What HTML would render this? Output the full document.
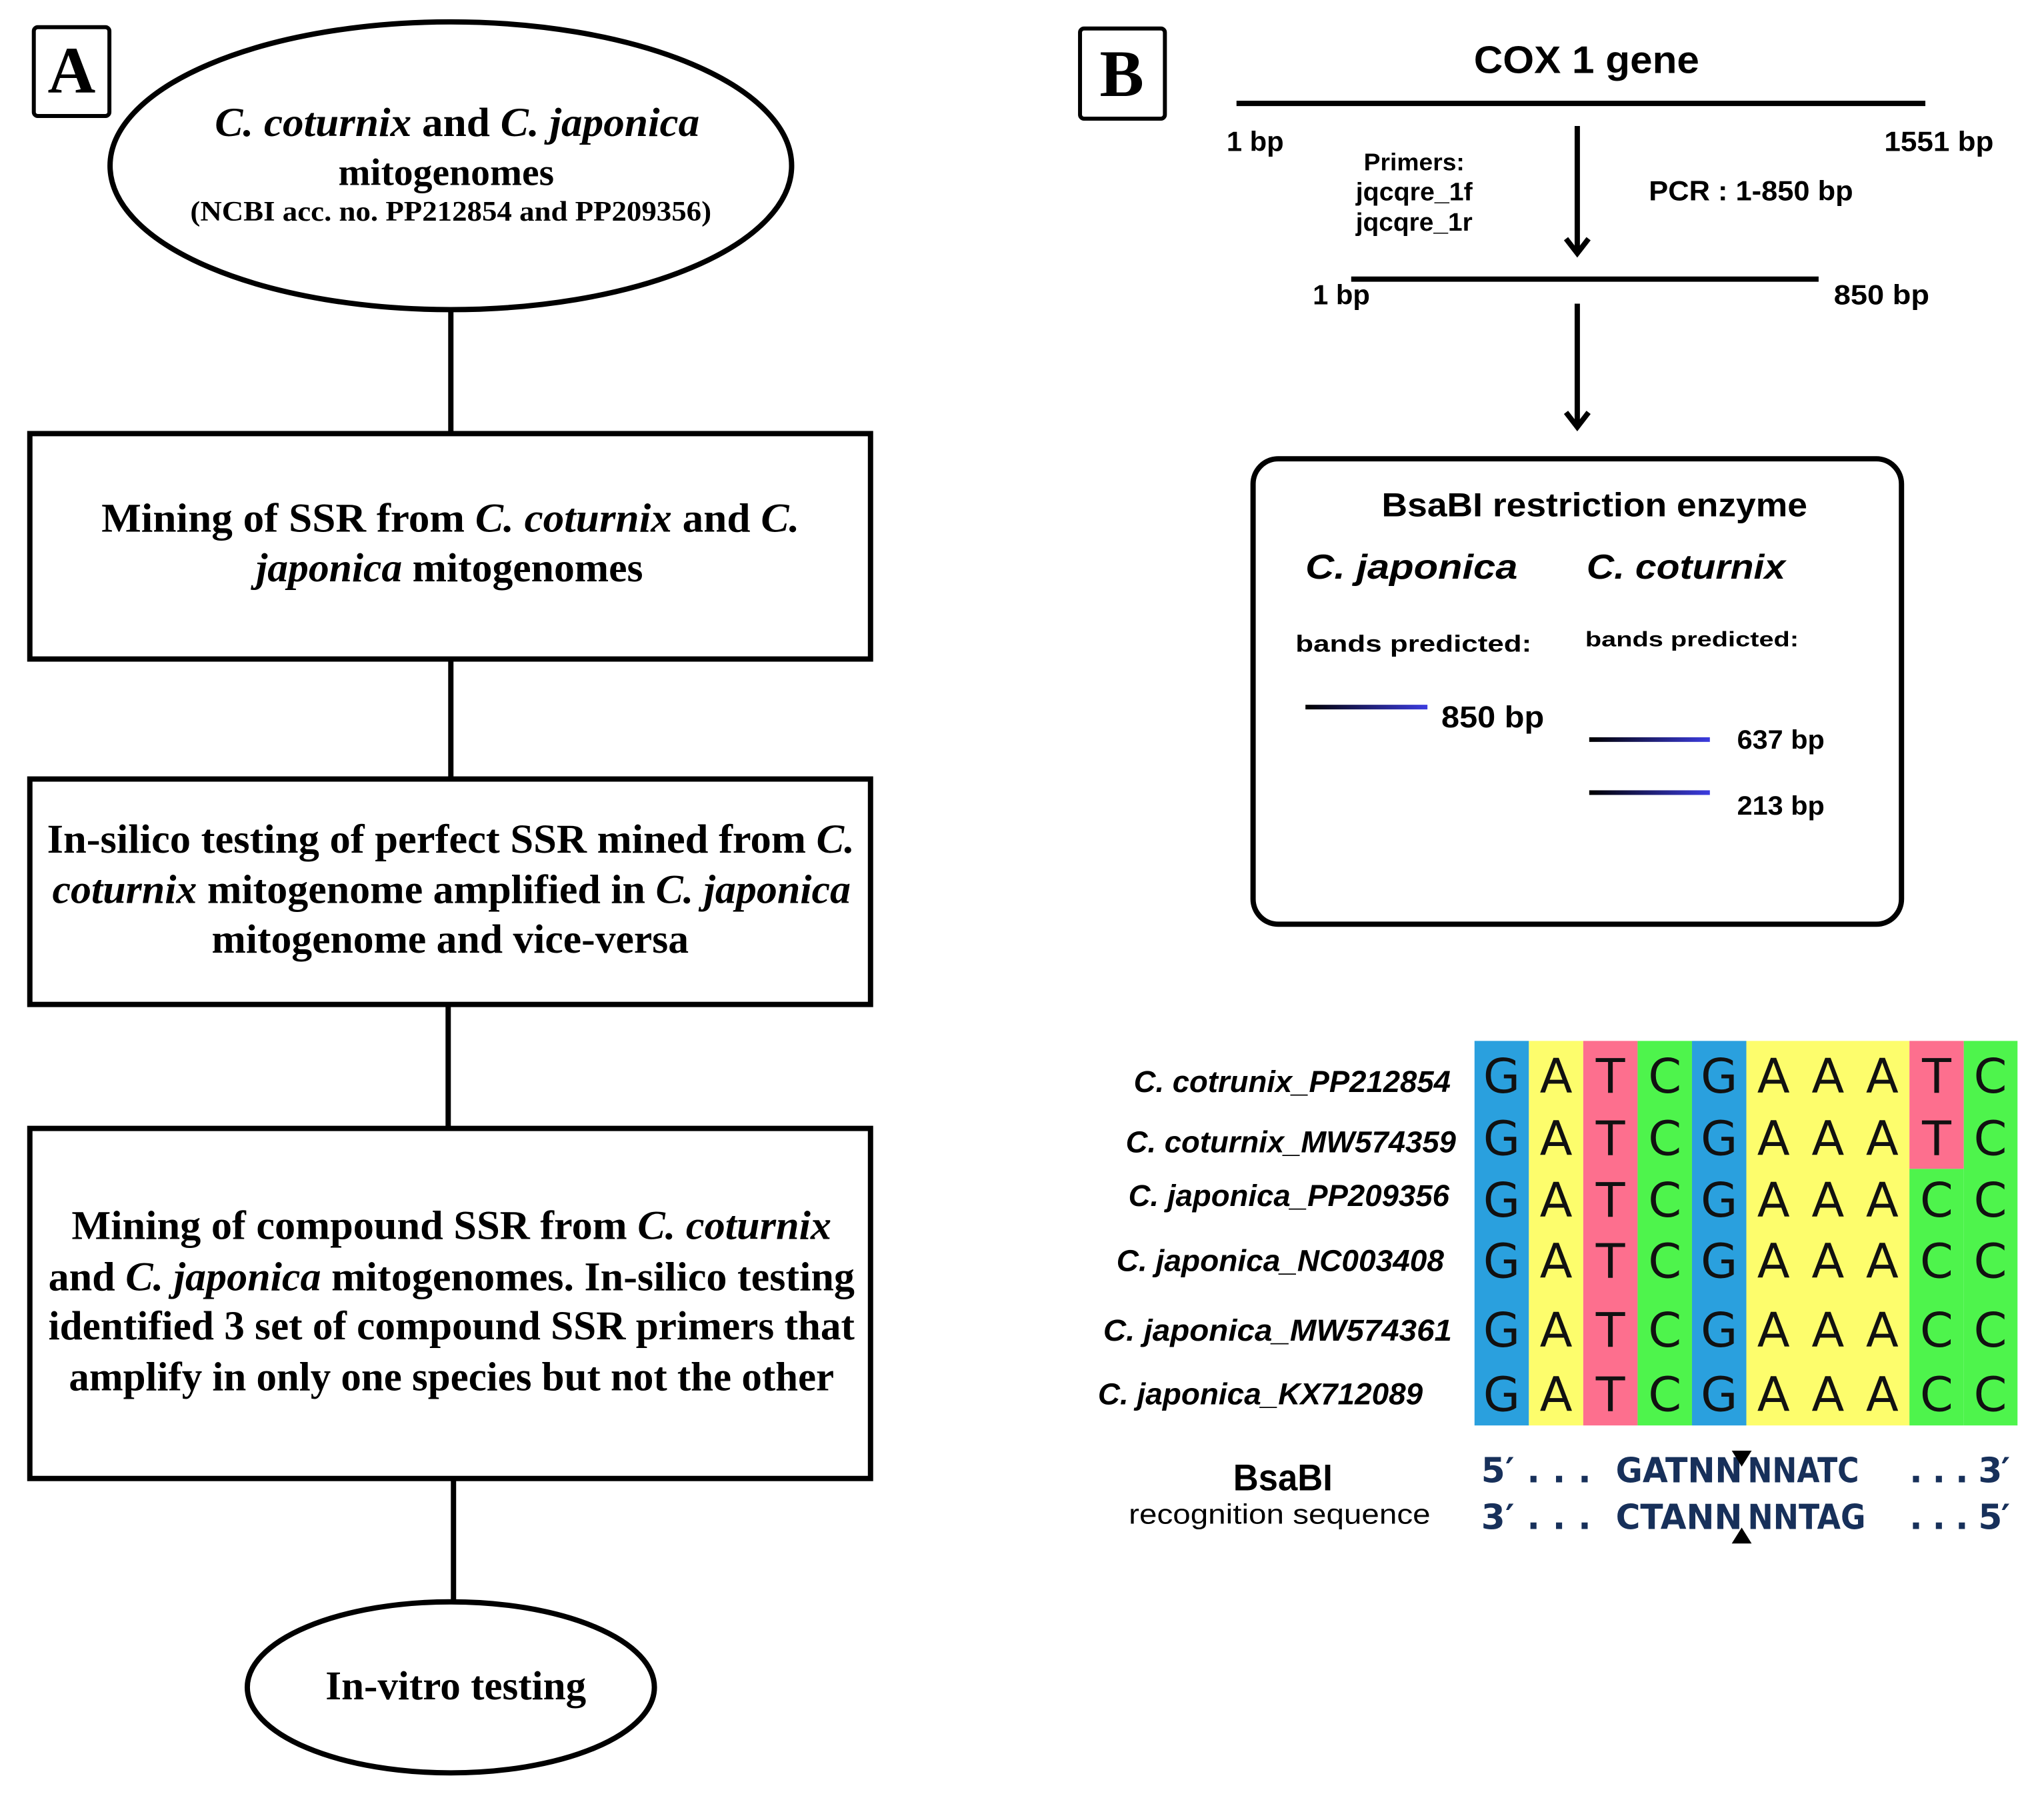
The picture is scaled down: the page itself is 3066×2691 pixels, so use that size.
<!DOCTYPE html>
<html><head><meta charset="utf-8"><style>html,body{margin:0;padding:0;background:#fff}svg{display:block}</style></head>
<body>
<svg width="3066" height="2691" viewBox="0 0 3066 2691" xmlns="http://www.w3.org/2000/svg">
<defs>
<linearGradient id="bg" x1="0" x2="1" y1="0" y2="0"><stop offset="0" stop-color="#000"/><stop offset="1" stop-color="#3c3ce0"/></linearGradient>
</defs>
<rect width="3066" height="2691" fill="#fff"/>
<g transform="scale(0.9945)">
<!-- Panel A -->
<g fill="none" stroke="#000" stroke-width="8">
<rect x="51" y="41" width="114" height="134" rx="6" stroke-width="6"/>
<ellipse cx="680" cy="250" rx="514" ry="217"/>
<line x1="680" y1="467" x2="680" y2="652"/>
<rect x="45" y="654" width="1268" height="340"/>
<line x1="680" y1="994" x2="680" y2="1175"/>
<rect x="45" y="1175" width="1268" height="340"/>
<line x1="676" y1="1515" x2="676" y2="1702"/>
<rect x="45" y="1702" width="1268" height="528"/>
<line x1="684" y1="2230" x2="684" y2="2416"/>
<ellipse cx="680" cy="2545" rx="307" ry="129"/>
</g>
<g font-family="Liberation Serif, serif" font-weight="bold" fill="#000">
<text x="108" y="140" font-size="100" text-anchor="middle">A</text>
<text x="324" y="205" font-size="62" textLength="731" lengthAdjust="spacingAndGlyphs"><tspan font-style="italic">C. coturnix</tspan> and <tspan font-style="italic">C. japonica</tspan></text>
<text x="673" y="279" font-size="58" text-anchor="middle">mitogenomes</text>
<text x="287" y="333" font-size="43" textLength="786" lengthAdjust="spacingAndGlyphs">(NCBI acc. no. PP212854 and PP209356)</text>

<text x="153" y="802" font-size="62" textLength="1053" lengthAdjust="spacingAndGlyphs">Mining of SSR from <tspan font-style="italic">C. coturnix</tspan> and <tspan font-style="italic">C.</tspan></text>
<text x="678" y="877" font-size="62" text-anchor="middle"><tspan font-style="italic">japonica</tspan> mitogenomes</text>

<text x="71" y="1286" font-size="62" textLength="1218" lengthAdjust="spacingAndGlyphs">In-silico testing of perfect SSR mined from <tspan font-style="italic">C.</tspan></text>
<text x="79" y="1362" font-size="62" textLength="1204" lengthAdjust="spacingAndGlyphs"><tspan font-style="italic">coturnix</tspan> mitogenome amplified in <tspan font-style="italic">C. japonica</tspan></text>
<text x="679" y="1437" font-size="62" text-anchor="middle">mitogenome and vice-versa</text>

<text x="108" y="1869" font-size="62" textLength="1146" lengthAdjust="spacingAndGlyphs">Mining of compound SSR from <tspan font-style="italic">C. coturnix</tspan></text>
<text x="73" y="1946" font-size="62" textLength="1216" lengthAdjust="spacingAndGlyphs">and <tspan font-style="italic">C. japonica</tspan> mitogenomes. In-silico testing</text>
<text x="73" y="2020" font-size="62" textLength="1216" lengthAdjust="spacingAndGlyphs">identified 3 set of compound SSR primers that</text>
<text x="104" y="2097" font-size="62" textLength="1154" lengthAdjust="spacingAndGlyphs">amplify in only one species but not the other</text>

<text x="491" y="2563" font-size="62" textLength="393" lengthAdjust="spacingAndGlyphs">In-vitro testing</text>
</g>

<!-- Panel B -->
<g fill="none" stroke="#000" stroke-width="8">
<rect x="1629" y="43" width="128" height="136" rx="6" stroke-width="6"/>
<line x1="1865" y1="156" x2="2904" y2="156"/>
<line x1="2379" y1="190" x2="2379" y2="380"/>
<polyline points="2362,360 2379,382 2396,360"/>
<line x1="2038" y1="421" x2="2743" y2="421"/>
<line x1="2379" y1="458" x2="2379" y2="642"/>
<polyline points="2362,622 2379,644 2396,622"/>
<rect x="1890" y="692" width="978" height="702" rx="38"/>
</g>
<g fill="url(#bg)">
<rect x="1969" y="1063" width="184" height="7"/>
<rect x="2397" y="1112" width="182" height="7"/>
<rect x="2397" y="1192" width="182" height="7"/>
</g>
<g font-family="Liberation Sans, sans-serif" font-weight="bold" fill="#000">
<text x="1692" y="145" font-size="100" text-anchor="middle" font-family="Liberation Serif, serif">B</text>
<text x="2393" y="110" font-size="58" text-anchor="middle" textLength="340" lengthAdjust="spacingAndGlyphs">COX 1 gene</text>
<text x="1850" y="228" font-size="42">1 bp</text>
<text x="3007" y="228" font-size="42" text-anchor="end" textLength="165" lengthAdjust="spacingAndGlyphs">1551 bp</text>
<text x="2133" y="257" font-size="36" text-anchor="middle" textLength="152" lengthAdjust="spacingAndGlyphs">Primers:</text>
<text x="2133" y="302" font-size="38" text-anchor="middle" textLength="176" lengthAdjust="spacingAndGlyphs">jqcqre_1f</text>
<text x="2133" y="348" font-size="38" text-anchor="middle" textLength="176" lengthAdjust="spacingAndGlyphs">jqcqre_1r</text>
<text x="2487" y="302" font-size="42" textLength="308" lengthAdjust="spacingAndGlyphs">PCR :  1-850 bp</text>
<text x="1980" y="459" font-size="42">1 bp</text>
<text x="2766" y="459" font-size="42" textLength="144" lengthAdjust="spacingAndGlyphs">850 bp</text>
<text x="2405" y="779" font-size="50" text-anchor="middle" textLength="642" lengthAdjust="spacingAndGlyphs">BsaBI restriction enzyme</text>
<text x="1969" y="873" font-size="52" font-style="italic" textLength="320" lengthAdjust="spacingAndGlyphs">C. japonica</text>
<text x="2393" y="873" font-size="52" font-style="italic" textLength="300" lengthAdjust="spacingAndGlyphs">C. coturnix</text>
<text x="1954" y="983" font-size="35" textLength="356" lengthAdjust="spacingAndGlyphs">bands predicted:</text>
<text x="2391" y="975" font-size="32" textLength="322" lengthAdjust="spacingAndGlyphs">bands predicted:</text>
<text x="2174" y="1097" font-size="46" textLength="155" lengthAdjust="spacingAndGlyphs">850 bp</text>
<text x="2620" y="1129" font-size="40" textLength="132" lengthAdjust="spacingAndGlyphs">637 bp</text>
<text x="2620" y="1229" font-size="40" textLength="132" lengthAdjust="spacingAndGlyphs">213 bp</text>
</g>

<!-- alignment grid -->
<g>
<rect x="2224" y="1570" width="82" height="580" fill="#2aa0de"/>
<rect x="2306" y="1570" width="82" height="580" fill="#fdfd6c"/>
<rect x="2388" y="1570" width="82" height="580" fill="#fd6f8e"/>
<rect x="2470" y="1570" width="82" height="580" fill="#4ef44c"/>
<rect x="2552" y="1570" width="82" height="580" fill="#2aa0de"/>
<rect x="2634" y="1570" width="246" height="580" fill="#fdfd6c"/>
<rect x="2880" y="1570" width="82" height="193" fill="#fd6f8e"/>
<rect x="2880" y="1763" width="82" height="387" fill="#4ef44c"/>
<rect x="2962" y="1570" width="81" height="580" fill="#4ef44c"/>
</g>
<g font-family="DejaVu Sans, sans-serif" font-size="72" fill="#111" text-anchor="middle">
<text y="1648"><tspan x="2265">G</tspan><tspan x="2347">A</tspan><tspan x="2429">T</tspan><tspan x="2511">C</tspan><tspan x="2593">G</tspan><tspan x="2675">A</tspan><tspan x="2757">A</tspan><tspan x="2839">A</tspan><tspan x="2921">T</tspan><tspan x="3002">C</tspan></text>
<text y="1742"><tspan x="2265">G</tspan><tspan x="2347">A</tspan><tspan x="2429">T</tspan><tspan x="2511">C</tspan><tspan x="2593">G</tspan><tspan x="2675">A</tspan><tspan x="2757">A</tspan><tspan x="2839">A</tspan><tspan x="2921">T</tspan><tspan x="3002">C</tspan></text>
<text y="1835"><tspan x="2265">G</tspan><tspan x="2347">A</tspan><tspan x="2429">T</tspan><tspan x="2511">C</tspan><tspan x="2593">G</tspan><tspan x="2675">A</tspan><tspan x="2757">A</tspan><tspan x="2839">A</tspan><tspan x="2921">C</tspan><tspan x="3002">C</tspan></text>
<text y="1927"><tspan x="2265">G</tspan><tspan x="2347">A</tspan><tspan x="2429">T</tspan><tspan x="2511">C</tspan><tspan x="2593">G</tspan><tspan x="2675">A</tspan><tspan x="2757">A</tspan><tspan x="2839">A</tspan><tspan x="2921">C</tspan><tspan x="3002">C</tspan></text>
<text y="2031"><tspan x="2265">G</tspan><tspan x="2347">A</tspan><tspan x="2429">T</tspan><tspan x="2511">C</tspan><tspan x="2593">G</tspan><tspan x="2675">A</tspan><tspan x="2757">A</tspan><tspan x="2839">A</tspan><tspan x="2921">C</tspan><tspan x="3002">C</tspan></text>
<text y="2128"><tspan x="2265">G</tspan><tspan x="2347">A</tspan><tspan x="2429">T</tspan><tspan x="2511">C</tspan><tspan x="2593">G</tspan><tspan x="2675">A</tspan><tspan x="2757">A</tspan><tspan x="2839">A</tspan><tspan x="2921">C</tspan><tspan x="3002">C</tspan></text>
</g>
<g font-family="Liberation Sans, sans-serif" font-weight="bold" font-style="italic" font-size="46" fill="#000" text-anchor="end">
<text x="2188" y="1647" textLength="478" lengthAdjust="spacingAndGlyphs">C. cotrunix_PP212854</text>
<text x="2196" y="1738" textLength="498" lengthAdjust="spacingAndGlyphs">C. coturnix_MW574359</text>
<text x="2186" y="1819" textLength="484" lengthAdjust="spacingAndGlyphs">C. japonica_PP209356</text>
<text x="2178" y="1917" textLength="494" lengthAdjust="spacingAndGlyphs">C. japonica_NC003408</text>
<text x="2190" y="2022" textLength="526" lengthAdjust="spacingAndGlyphs">C. japonica_MW574361</text>
<text x="2146" y="2118" textLength="490" lengthAdjust="spacingAndGlyphs">C. japonica_KX712089</text>
</g>
<g font-family="Liberation Sans, sans-serif" fill="#000" text-anchor="middle">
<text x="1935" y="2248" font-size="56" font-weight="bold" textLength="150" lengthAdjust="spacingAndGlyphs">BsaBI</text>
<text x="1930" y="2298" font-size="42" textLength="455" lengthAdjust="spacingAndGlyphs">recognition sequence</text>
</g>
<g font-family="DejaVu Sans, sans-serif" font-weight="bold" font-size="52" fill="#17305a">
<text x="2234" y="2236" textLength="166" lengthAdjust="spacing">5′ . . .</text><text x="2437" y="2236" textLength="191" lengthAdjust="spacingAndGlyphs">GATNN</text><text x="2636" y="2236" textLength="168" lengthAdjust="spacingAndGlyphs">NNATC</text><text x="2880" y="2236" textLength="152" lengthAdjust="spacing">. . .  3′</text>
<text x="2234" y="2306" textLength="166" lengthAdjust="spacing">3′ . . .</text><text x="2437" y="2306" textLength="191" lengthAdjust="spacingAndGlyphs">CTANN</text><text x="2636" y="2306" textLength="178" lengthAdjust="spacingAndGlyphs">NNTAG</text><text x="2880" y="2306" textLength="152" lengthAdjust="spacing">. . .  5′</text>
</g>
<polygon points="2612,2188 2642,2188 2627,2212" fill="#000"/>
<polygon points="2612,2328 2642,2328 2627,2304" fill="#000"/>
</g>
</svg>
</body></html>
